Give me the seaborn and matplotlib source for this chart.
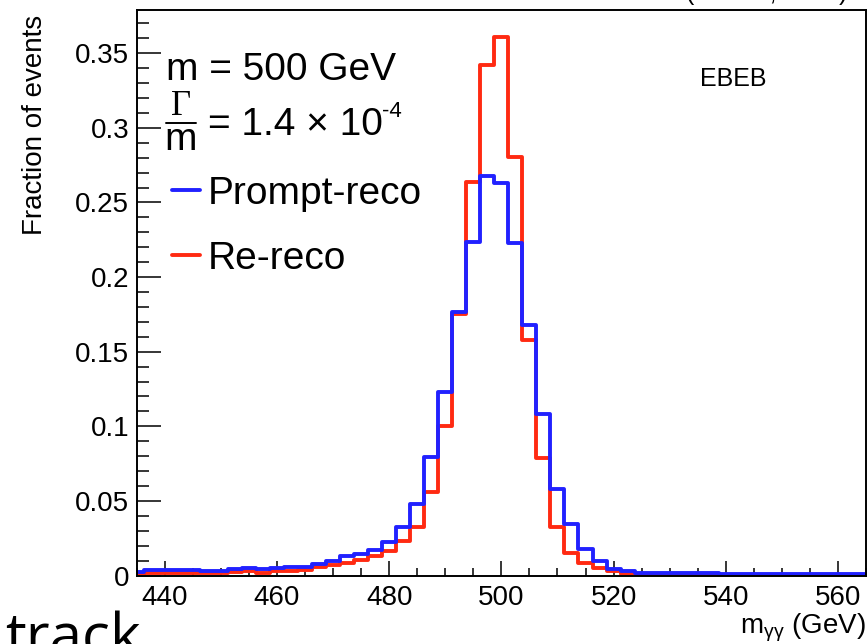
import numpy as np
import pandas as pd
import seaborn as sns
import matplotlib
matplotlib.use("Agg")
import matplotlib.pyplot as plt
from matplotlib.ticker import MultipleLocator, FixedLocator
from matplotlib.lines import Line2D

# ---- histogram content (fraction of events per 2.5 GeV bin) ----
bin_centers = [
    435.0, 437.5, 440.0, 442.5, 445.0, 447.5, 450.0, 452.5, 455.0, 457.5,
    460.0, 462.5, 465.0, 467.5, 470.0, 472.5, 475.0, 477.5, 480.0, 482.5,
    485.0, 487.5, 490.0, 492.5, 495.0, 497.5, 500.0, 502.5, 505.0, 507.5,
    510.0, 512.5, 515.0, 517.5, 520.0, 522.5, 525.0, 527.5, 530.0, 532.5,
    535.0, 537.5, 540.0, 542.5, 545.0, 547.5, 550.0, 552.5, 555.0, 557.5,
    560.0, 562.5, 565.0,
]
bin_width = 2.5

prompt_reco = [
    0.0022, 0.0034, 0.0034, 0.0034, 0.0034, 0.0033, 0.0033, 0.0045, 0.0049, 0.0046,
    0.0050, 0.0054, 0.0060, 0.0076, 0.0094, 0.0134, 0.0146, 0.0168, 0.0224, 0.0323,
    0.0482, 0.0793, 0.1231, 0.1769, 0.2234, 0.2674, 0.2631, 0.2228, 0.1679, 0.1080,
    0.0582, 0.0345, 0.0179, 0.0094, 0.0042, 0.0027, 0.0018, 0.0016, 0.0015, 0.0014,
    0.0015, 0.0014, 0.0013, 0.0012, 0.0013, 0.0012, 0.0011, 0.0012, 0.0011, 0.0010,
    0.0011, 0.0010, 0.0010,
]
re_reco = [
    0.0012, 0.0015, 0.0015, 0.0016, 0.0015, 0.0015, 0.0016, 0.0024, 0.0027, 0.0020,
    0.0032, 0.0032, 0.0038, 0.0054, 0.0072, 0.0087, 0.0105, 0.0128, 0.0167, 0.0228,
    0.0322, 0.0558, 0.1001, 0.1751, 0.2635, 0.3419, 0.3609, 0.2803, 0.1577, 0.0788,
    0.0324, 0.0148, 0.0083, 0.0049, 0.0027, 0.0010, 0.0005, 0.0004, 0.0003, 0.0002,
    0.0002, 0.0002, 0.0001, 0.0001, 0.0001, 0.0001, 0.0001, 0.0000, 0.0000, 0.0000,
    0.0000, 0.0000, 0.0000,
]

series_labels = ["Prompt-reco", "Re-reco"]
series_colors = ["#2121ff", "#ff2a12"]

x_ticks = [440, 460, 480, 500, 520, 540, 560]
y_ticks = [0, 0.05, 0.1, 0.15, 0.2, 0.25, 0.3, 0.35]
y_tick_labels = ["0", "0.05", "0.1", "0.15", "0.2", "0.25", "0.3", "0.35"]

# ---- style ----
sns.set_theme(style="white")
plt.rcParams["font.family"] = ["Liberation Sans", "DejaVu Sans"]
plt.rcParams["mathtext.fontset"] = "custom"
plt.rcParams["mathtext.rm"] = "Liberation Sans"
plt.rcParams["mathtext.it"] = "Liberation Sans:italic"
plt.rcParams["mathtext.sf"] = "Liberation Sans"
for key in ["text.color", "axes.labelcolor", "xtick.color", "ytick.color", "axes.edgecolor"]:
    plt.rcParams[key] = "black"

W, H = 867, 644
fig = plt.figure(figsize=(W / 100, H / 100), dpi=100)
fig.patch.set_facecolor("white")


def fx(px):
    return px / W


def fy(py):
    return 1 - py / H


ax_left, ax_right, ax_top, ax_bottom = 136.7, 866.0, 10.0, 575.5
ax = fig.add_axes([fx(ax_left), fy(ax_bottom), (ax_right - ax_left) / W, (ax_bottom - ax_top) / H])
ax.set_facecolor("white")

edges = [c - bin_width / 2 for c in bin_centers] + [bin_centers[-1] + bin_width / 2]
df = pd.DataFrame({
    "mass": bin_centers * 2,
    "frac": prompt_reco + re_reco,
    "sample": [series_labels[0]] * len(bin_centers) + [series_labels[1]] * len(bin_centers),
})

line_w = 2.8

# Re-reco first so that Prompt-reco sits on top
for name, col in [(series_labels[1], series_colors[1]), (series_labels[0], series_colors[0])]:
    sub = df[df["sample"] == name]
    sns.histplot(data=sub, x="mass", weights="frac", bins=edges, element="step",
                 fill=False, color=col, linewidth=line_w, ax=ax, zorder=3)

ax.set_xlim(435, 565)
ax.set_ylim(0, max(re_reco) * 1.05)

# axes frame and ticks
for side in ["left", "bottom", "top", "right"]:
    ax.spines[side].set_visible(True)
    ax.spines[side].set_color("black")
    ax.spines[side].set_linewidth(1.4)
    ax.spines[side].set_zorder(5)

ax.xaxis.set_major_locator(FixedLocator(x_ticks))
ax.xaxis.set_minor_locator(MultipleLocator(5))
ax.set_xticklabels([str(v) for v in x_ticks])
ax.yaxis.set_major_locator(FixedLocator(y_ticks))
ax.yaxis.set_minor_locator(MultipleLocator(0.01))
ax.set_yticklabels(y_tick_labels)

ax.tick_params(axis="both", which="both", direction="in", color="black", width=1.1,
               labelsize=20, labelcolor="black", bottom=True, left=True, top=False, right=False)
ax.tick_params(axis="x", which="major", length=11, pad=7)
ax.tick_params(axis="x", which="minor", length=5.5)
ax.tick_params(axis="y", which="major", length=17, pad=5.5)
ax.tick_params(axis="y", which="minor", length=8.5)
ax.grid(False)

ax.set_xlabel(r"m$_{\mathrm{\gamma\gamma}}$ (GeV)", fontsize=20, loc="right")
ax.xaxis.set_label_coords(1.0, (ax_bottom - 612) / (ax_bottom - ax_top))
ax.set_ylabel("Fraction of events", fontsize=20, loc="top")
ax.yaxis.set_label_coords((48 - ax_left) / (ax_right - ax_left), (ax_bottom - 15) / (ax_bottom - ax_top))

# legend
handles = [Line2D([0], [0], color=c, lw=line_w) for c in series_colors]
ax.legend(handles, series_labels, loc="upper left", frameon=False, fontsize=28,
          bbox_to_anchor=((172 - ax_left) / (ax_right - ax_left), (ax_bottom - 176) / (ax_bottom - ax_top)),
          borderpad=0, borderaxespad=0, handlelength=0.72, handletextpad=0.2, labelspacing=0.74)

# signal-hypothesis annotations
fig.text(fx(166), fy(79.5), "m = 500 GeV", fontsize=28, ha="left", va="baseline")
fig.text(fx(181), fy(115), "Γ", fontsize=25, family="Liberation Serif", ha="center", va="baseline")
fig.add_artist(Line2D([fx(166), fx(196)], [fy(122.7), fy(122.7)], color="black", lw=1.4))
fig.text(fx(181), fy(150), "m", fontsize=28, ha="center", va="baseline")
fig.text(fx(208), fy(135), "= 1.4 × 10", fontsize=28, ha="left", va="baseline")
fig.text(fx(382), fy(117), "-4", fontsize=16, ha="left", va="baseline")

fig.text(fx(700), fy(85.7), "EBEB", fontsize=18, ha="left", va="baseline")

# header and footer lines
fig.text(fx(686), fy(0), "(13 TeV, 2016)", fontsize=18, ha="left", va="baseline")
fig.text(fx(5), fy(656), "track", fontsize=42, family="Open Sans", ha="left", va="baseline")

fig.savefig("out.png", dpi=100, facecolor="white")
